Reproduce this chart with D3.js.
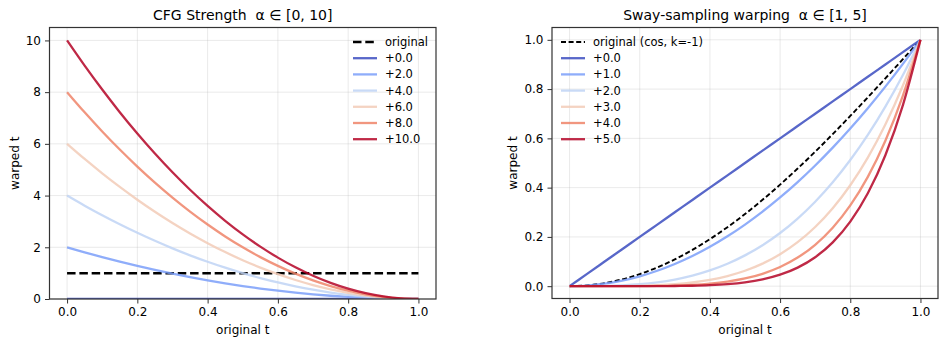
<!DOCTYPE html>
<html><head><meta charset="utf-8">
<script src="https://cdn.jsdelivr.net/npm/d3@7"></script>
<style>
body{margin:0;background:#fff;}
svg{font-family:"DejaVu Sans",sans-serif;}
text{white-space:pre;}
</style></head><body>
<svg id="chart" width="947" height="345"></svg>
<script>
// ---------- data ----------
const tValues = [0,0.05,0.1,0.15,0.2,0.25,0.3,0.35,0.4,0.45,0.5,0.55,0.6,0.65,0.7,0.75,0.8,0.85,0.9,0.95,1];

// Left panel: CFG strength
const cfgLabels = ["+0.0","+2.0","+4.0","+6.0","+8.0","+10.0"];
const cfgOriginal = [1,1,1,1,1,1,1,1,1,1,1,1,1,1,1,1,1,1,1,1,1];
const cfg0  = [0,0,0,0,0,0,0,0,0,0,0,0,0,0,0,0,0,0,0,0,0];
const cfg2  = [2,1.805,1.62,1.445,1.28,1.125,0.98,0.845,0.72,0.605,0.5,0.405,0.32,0.245,0.18,0.125,0.08,0.045,0.02,0.005,0];
const cfg4  = [4,3.61,3.24,2.89,2.56,2.25,1.96,1.69,1.44,1.21,1.0,0.81,0.64,0.49,0.36,0.25,0.16,0.09,0.04,0.01,0];
const cfg6  = [6,5.415,4.86,4.335,3.84,3.375,2.94,2.535,2.16,1.815,1.5,1.215,0.96,0.735,0.54,0.375,0.24,0.135,0.06,0.015,0];
const cfg8  = [8,7.22,6.48,5.78,5.12,4.5,3.92,3.38,2.88,2.42,2.0,1.62,1.28,0.98,0.72,0.5,0.32,0.18,0.08,0.02,0];
const cfg10 = [10,9.025,8.1,7.225,6.4,5.625,4.9,4.225,3.6,3.025,2.5,2.025,1.6,1.225,0.9,0.625,0.4,0.225,0.1,0.025,0];
const cfgSeries = [cfg0,cfg2,cfg4,cfg6,cfg8,cfg10];
const cfgYTicks = [0,2,4,6,8,10];

// Right panel: sway sampling
const swayLabels = ["+0.0","+1.0","+2.0","+3.0","+4.0","+5.0"];
const swayOriginal = [0,0.00308,0.01231,0.02763,0.04894,0.07612,0.10899,0.14736,0.19098,0.23959,0.29289,0.35055,0.41221,0.4775,0.54601,0.61732,0.69098,0.76655,0.84357,0.92154,1];
const sway0 = [0,0.05,0.1,0.15,0.2,0.25,0.3,0.35,0.4,0.45,0.5,0.55,0.6,0.65,0.7,0.75,0.8,0.85,0.9,0.95,1];
const sway1 = [0,0.0025,0.01,0.0225,0.04,0.0625,0.09,0.1225,0.16,0.2025,0.25,0.3025,0.36,0.4225,0.49,0.5625,0.64,0.7225,0.81,0.9025,1];
const sway2 = [0,0.000125,0.001,0.003375,0.008,0.015625,0.027,0.042875,0.064,0.091125,0.125,0.166375,0.216,0.274625,0.343,0.421875,0.512,0.614125,0.729,0.857375,1];
const sway3 = [0,0.000006,0.0001,0.0005,0.0016,0.0039,0.0081,0.0150,0.0256,0.0410,0.0625,0.0915,0.1296,0.1785,0.2401,0.3164,0.4096,0.5220,0.6561,0.8145,1];
const sway4 = [0,0,0.00001,0.00008,0.00032,0.00098,0.00243,0.00525,0.01024,0.01845,0.03125,0.05033,0.07776,0.11603,0.16807,0.2373,0.32768,0.4437,0.59049,0.77378,1];
const sway5 = [0,0,0,0.00001,0.000064,0.000244,0.000729,0.001838,0.004096,0.008304,0.015625,0.02768,0.046656,0.075419,0.117649,0.177979,0.262144,0.37715,0.531441,0.735092,1];
const swaySeries = [sway0,sway1,sway2,sway3,sway4,sway5];
const swayYTicks = [0,0.2,0.4,0.6,0.8,1.0];

const xTicks = [0,0.2,0.4,0.6,0.8,1.0];
const palette = ["#3b4cc0","#7b9ff9","#c0d4f5","#f2cbb7","#ee8468","#b40426"];

// ---------- drawing ----------
const svg = d3.select("#chart");

function panel(opts){
  const {x0,x1,y0,y1,xDomain,yDomain,yTicks,yFmt,title,series,labels,orig,origLabel,origW,origDash,legendX,id} = opts;
  const g = svg.append("g");
  const x = d3.scaleLinear().domain(xDomain).range([x0,x1]);
  const y = d3.scaleLinear().domain(yDomain).range([y1,y0]);

  g.append("clipPath").attr("id",id).append("rect")
    .attr("x",x0).attr("y",y0).attr("width",x1-x0).attr("height",y1-y0);

  // grid
  g.append("g").selectAll("line").data(xTicks).join("line")
    .attr("x1",d=>x(d)).attr("x2",d=>x(d)).attr("y1",y0).attr("y2",y1)
    .attr("stroke","#b0b0b0").attr("stroke-opacity",0.3).attr("stroke-width",0.9);
  g.append("g").selectAll("line").data(yTicks).join("line")
    .attr("y1",d=>y(d)).attr("y2",d=>y(d)).attr("x1",x0).attr("x2",x1)
    .attr("stroke","#b0b0b0").attr("stroke-opacity",0.3).attr("stroke-width",0.9);

  const line = d3.line().x((d,i)=>x(tValues[i])).y(d=>y(d)).curve(d3.curveMonotoneX);
  const lines = g.append("g").attr("clip-path",`url(#${id})`);
  lines.append("path").datum(orig).attr("d",line).attr("fill","none")
    .attr("stroke","#000").attr("stroke-width",origW).attr("stroke-dasharray",origDash);
  series.forEach((s,i)=>{
    lines.append("path").datum(s).attr("d",line).attr("fill","none")
      .attr("stroke",palette[i]).attr("stroke-opacity",0.85).attr("stroke-width",2.3);
  });

  // axes
  const xa = g.append("g").attr("transform",`translate(0,${y1})`)
    .call(d3.axisBottom(x).tickValues(xTicks).tickFormat(d3.format(".1f")).tickSizeInner(4.5).tickSizeOuter(0).tickPadding(4));
  const ya = g.append("g").attr("transform",`translate(${x0},0)`)
    .call(d3.axisLeft(y).tickValues(yTicks).tickFormat(yFmt).tickSizeInner(4.5).tickSizeOuter(0).tickPadding(4));
  [xa,ya].forEach(a=>{
    a.select(".domain").remove();
    a.selectAll("line").attr("stroke","#333").attr("stroke-width",1);
    a.selectAll("text").attr("fill","#000").attr("font-size",12).attr("font-family","DejaVu Sans");
  });

  // frame
  g.append("rect").attr("x",x0).attr("y",y0).attr("width",x1-x0).attr("height",y1-y0)
    .attr("fill","none").attr("stroke","#333").attr("stroke-width",1.2);

  // labels
  g.append("text").attr("x",(x0+x1)/2).attr("y",y1+35).attr("text-anchor","middle")
    .attr("font-size",12).text("original t");
  g.append("text").attr("transform",`translate(${opts.ylabX},${(y0+y1)/2}) rotate(-90)`)
    .attr("text-anchor","middle").attr("font-size",12).text("warped t");
  g.append("text").attr("x",(x0+x1)/2).attr("y",20).attr("text-anchor","middle")
    .attr("font-size",14).attr("xml:space","preserve").text(title);

  // legend
  const lg = g.append("g");
  const rows = [{label:origLabel,color:"#000",dash:origDash,w:origW,op:1}]
    .concat(labels.map((l,i)=>({label:l,color:palette[i],dash:null,w:2.3,op:0.85})));
  rows.forEach((r,i)=>{
    const yy = 42 + i*16.2;
    lg.append("line").attr("x1",legendX).attr("x2",legendX+24).attr("y1",yy).attr("y2",yy)
      .attr("stroke",r.color).attr("stroke-opacity",r.op).attr("stroke-width",r.w)
      .attr("stroke-dasharray",r.dash);
    lg.append("text").attr("x",legendX+32).attr("y",yy+4).attr("font-size",11.5).text(r.label);
  });
}

panel({id:"clipL",x0:49.5,x1:436,y0:27.5,y1:299,xDomain:[-0.05,1.05],yDomain:[0,10.5],
  yTicks:cfgYTicks,yFmt:d3.format("d"),title:"CFG Strength  α ∈ [0, 10]",
  series:cfgSeries,labels:cfgLabels,orig:cfgOriginal,origLabel:"original",origW:2.5,origDash:"8.5,3.8",
  legendX:353,ylabX:19});

panel({id:"clipR",x0:552,x1:938,y0:27.5,y1:298.5,xDomain:[-0.05,1.05],yDomain:[-0.05,1.05],
  yTicks:swayYTicks,yFmt:d3.format(".1f"),title:"Sway-sampling warping  α ∈ [1, 5]",
  series:swaySeries,labels:swayLabels,orig:swayOriginal,origLabel:"original (cos, k=-1)",origW:1.9,origDash:"5,2.6",
  legendX:561,ylabX:517});
</script>
</body></html>
